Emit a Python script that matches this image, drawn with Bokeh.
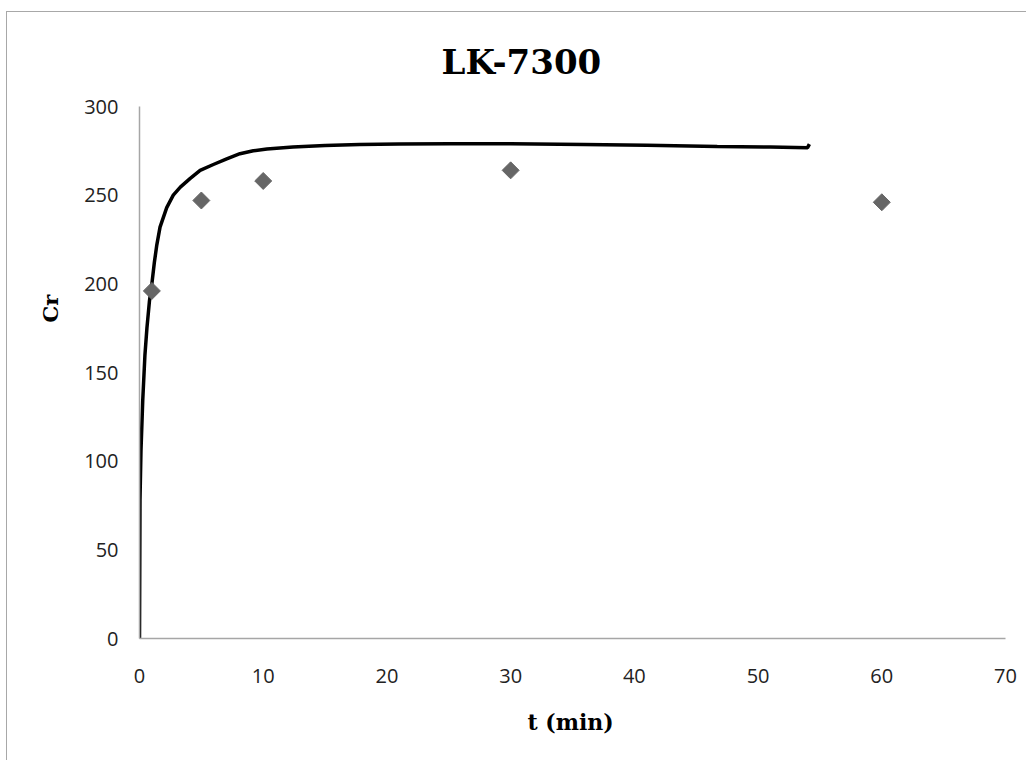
from bokeh.plotting import figure
from bokeh.models import Range1d, FixedTicker, Title
from bokeh.embed import file_html
from bokeh.resources import INLINE

# measured data points
t_points = [1, 5, 10, 30, 60]
cr_points = [196, 247, 258, 264, 246]

# fitted curve
curve_t = [0, 0.04, 0.12, 0.26, 0.44, 0.6, 0.8, 1.0, 1.2, 1.4, 1.66, 2.2, 2.73, 3.3, 4.08,
           4.9, 5.97, 7.05, 8.12, 9.2, 10.3, 12.4, 15, 17.8, 21, 25.1, 30, 35.9, 41, 46.7,
           51, 54.0, 54.15]
curve_cr = [0, 78, 106, 134, 160, 175, 190, 200, 212, 222, 232, 243, 250, 254.5, 259.3,
            264, 267.3, 270.5, 273.4, 275, 276, 277.1, 278, 278.6, 278.9, 279, 279, 278.6,
            278.1, 277.5, 277.1, 276.8, 278.8]

x_ticks = [0, 10, 20, 30, 40, 50, 60, 70]
y_ticks = [0, 50, 100, 150, 200, 250, 300]

p = figure(width=1020, height=749, output_backend="svg", toolbar_location=None,
           x_range=Range1d(0, 70), y_range=Range1d(0, 300),
           min_border_left=132, min_border_right=22, min_border_top=94, min_border_bottom=123)
p.styles = {"margin-left": "6px", "margin-top": "11px",
            "border-left": "1px solid #a8a8a8", "border-top": "1px solid #a8a8a8"}

p.title = Title(text="LK-7300", align="left", offset=302,
                text_font="DejaVu Serif", text_font_style="bold",
                text_font_size="34px", text_color="#000000", standoff=50)

p.outline_line_color = None
p.grid.grid_line_color = None
p.background_fill_color = "white"
p.border_fill_color = "white"

for ax in (p.xaxis[0], p.yaxis[0]):
    ax.axis_line_color = "#a6a6a6"
    ax.axis_line_width = 1.5
    ax.major_tick_line_color = None
    ax.minor_tick_line_color = None
    ax.major_label_text_font = "Open Sans"
    ax.major_label_text_font_size = "20px"
    ax.major_label_text_color = "#222222"

p.xaxis.ticker = FixedTicker(ticks=x_ticks)
p.yaxis.ticker = FixedTicker(ticks=y_ticks)
p.xaxis.major_label_standoff = 24
p.yaxis.major_label_standoff = 15

p.add_layout(Title(text="t (min)", align="left", offset=388,
                   text_font="DejaVu Serif", text_font_style="bold",
                   text_font_size="22px", text_color="#000000", standoff=43), "below")
p.add_layout(Title(text="Cr", align="left", offset=316,
                   text_font="DejaVu Serif", text_font_style="bold",
                   text_font_size="21px", text_color="#000000", standoff=37), "left")

p.line(curve_t, curve_cr, line_color="black", line_width=3.5)
p.scatter(t_points, cr_points, marker="square", angle=0.785398, size=12,
          fill_color="#666666", line_color="#666666")

open("out.html", "w").write(file_html(p, INLINE))
